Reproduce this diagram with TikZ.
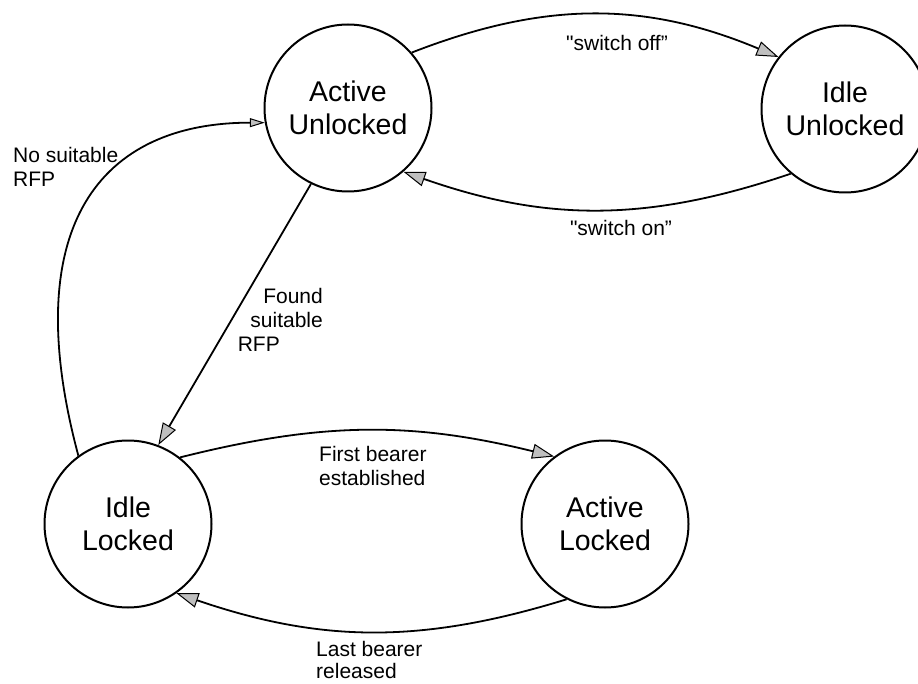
\documentclass[tikz,border=0pt]{standalone}
\usepackage{fontspec}
\setmainfont{Liberation Sans}[Ligatures=TeXOff]
\usetikzlibrary{arrows.meta}
\tikzset{
	state/.style={circle, draw, line width=2pt, minimum size=167pt, inner sep=0pt, align=center, font=\fontsize{28.5}{33}\selectfont},
	lbl/.style={inner sep=0pt, font=\fontsize{21}{24}\selectfont},
	trans/.style={line width=1.8pt, -{Triangle[length=22pt,width=15pt,line width=1pt,fill=black!25]}},
	transsmall/.style={line width=1.8pt, -{Triangle[length=15pt,width=9pt,line width=1pt,fill=black!25]}}
}

\begin{document}
\begin{tikzpicture}[x=1pt,y=-1pt]
			%%%%% START %%%%%
			\useasboundingbox (0,0) rectangle (918,684);
			
			\node[state] (actunl) at (348,108) {Active\\Unlocked};
			\node[state] (idleunl) at (845,109) {Idle\\Unlocked};
			\node[state] (idlelck) at (128,524) {Idle\\Locked};
			\node[state] (actlck) at (605,524) {Active\\Locked};
			
			\draw[trans] (actunl.41) to[bend left=22] (idleunl.142);
			\draw[trans] (idleunl.230) to[bend left=19] (actunl.-49);
			
			\draw[transsmall] (idlelck.126) to[out=105, in=180, out looseness=1.6, in looseness=1.1] (actunl.190);
			\draw[trans] (actunl.244) -- (idlelck.69);
			
			\draw[trans] (idlelck.52) to[bend left=14] (actlck.127);
			\draw[trans] (actlck.243) to[bend left=18] (idlelck.-55);
			
			\node[lbl] (swoff) at (617,43) {"switch off”};
			\node[lbl] (swon) at (621,228) {"switch on”};
			\node[lbl, anchor=west, align=left] (nosuit) at (13,167) {No suitable\\RFP};
			\node[lbl, anchor=east, align=right] (found) at (323,320) {Found\\suitable\\RFP\hspace*{43pt}};
			\node[lbl, anchor=west, align=left] (first) at (319,466) {First bearer\\established};
			\node[lbl, anchor=west, align=left, font=\fontsize{21}{22}\selectfont] (last) at (316,660) {Last bearer\\released};
			
			%%%%% END %%%%%
\end{tikzpicture}
\end{document}
